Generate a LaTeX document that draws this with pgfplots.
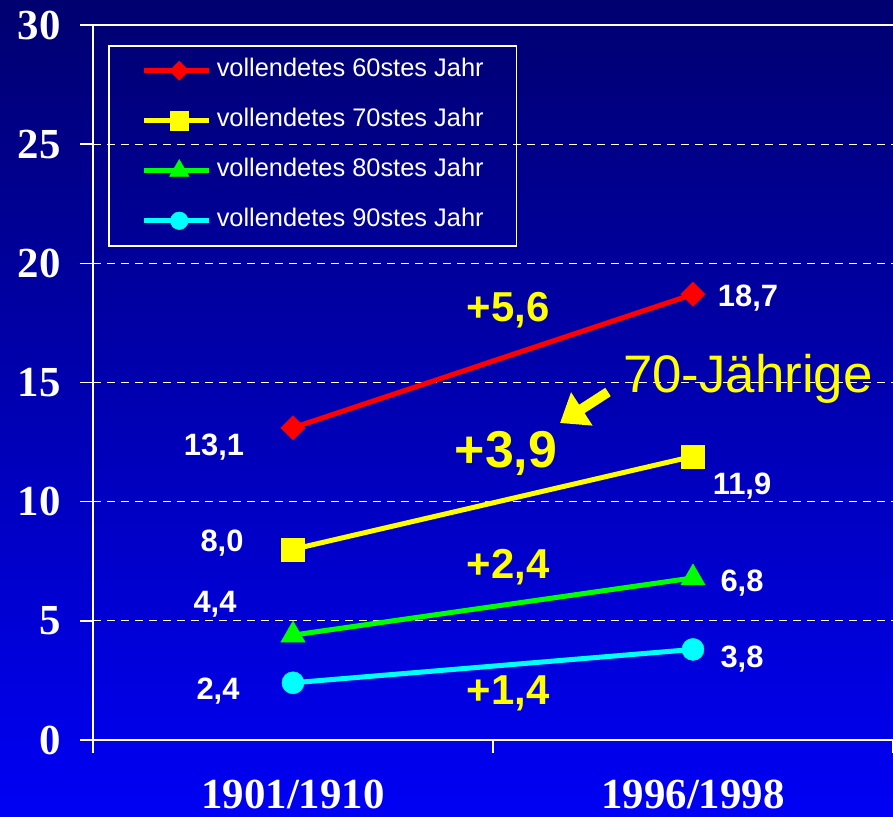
\documentclass[border=0pt]{standalone}
\usepackage{fontspec}
\setmainfont{Liberation Sans}
\newfontfamily\serifbf{Liberation Serif}
\usepackage{pgfplots}
\pgfplotsset{compat=1.18}
\usetikzlibrary{arrows.meta}
\definecolor{bgtop}{RGB}{0,0,112}
\definecolor{bgbot}{RGB}{0,0,245}
\definecolor{cred}{RGB}{255,0,0}
\definecolor{cyel}{RGB}{255,255,0}
\definecolor{cgrn}{RGB}{0,255,0}
\definecolor{ccya}{RGB}{0,255,255}
\begin{document}
\begin{tikzpicture}
\shade[top color=bgtop, bottom color=bgbot] (-93bp,-77bp) rectangle (800bp,740bp);
\begin{axis}[
  at={(0,0)}, anchor=south west,
  scale only axis, width=800bp, height=715bp,
  xmin=0, xmax=2, ymin=0, ymax=30,
  clip=false,
  axis x line*=bottom, axis y line*=left,
  axis line style={white, line width=1.5bp, -},
  tick align=outside,
  major tick length=13bp,
  tick style={white, line width=1.5bp},
  xtick={0,1,2}, xticklabels={},
  extra x ticks={0.5,1.5},
  extra x tick labels={1901/1910,1996/1998},
  extra x tick style={major tick length=0pt},
  ytick={0,5,10,15,20,25},
  ymajorgrids=true,
  major grid style={white, line width=0.8bp, dash pattern=on 8bp off 6bp},
  extra y ticks={30},
  extra y tick style={ymajorgrids=true, major grid style={solid, white, line width=1.5bp}},
  /pgf/number format/assume math mode=true,
  yticklabel style={font=\serifbf\bfseries\fontsize{43}{43}\selectfont, text=white, xshift=-16bp},
  xticklabel style={font=\serifbf\bfseries\fontsize{43}{43}\selectfont, text=white, yshift=-36bp},
  legend cell align=left,
  legend style={at={(axis description cs:0.01875,0.972)}, anchor=north west,
    draw=white, line width=1.5bp, fill=none, text=white,
    font=\fontsize{25.5}{25.5}\selectfont,
    inner xsep=33bp, inner ysep=13bp, row sep=26bp, column sep=5bp,
    nodes={inner sep=0bp, text height=18bp, text depth=6bp}},
  legend image code/.code={
    \path (0bp,0bp) -- (5bp,0bp);
    \draw[#1, /tikz/every mark/.append style={scale=0.8}, mark repeat=2, mark phase=2]
      plot coordinates {(5bp,0bp) (35bp,0bp) (65bp,0bp)};
  },
]
\addplot[color=cred, line width=5bp, mark=diamond*, mark size=12bp,
  mark options={solid, line width=0.5bp, xscale=1.33}]
  coordinates {(0.5,13.1) (1.5,18.7)};
\addlegendentry{vollendetes 60stes Jahr}
\addplot[color=cyel, line width=5bp, mark=square*, mark size=11.5bp,
  mark options={solid, line width=0.5bp}]
  coordinates {(0.5,8.0) (1.5,11.9)};
\addlegendentry{vollendetes 70stes Jahr}
\addplot[color=cgrn, line width=5bp, mark=triangle*, mark size=14bp,
  mark options={solid, line width=0.5bp}]
  coordinates {(0.5,4.4) (1.5,6.8)};
\addlegendentry{vollendetes 80stes Jahr}
\addplot[color=ccya, line width=5bp, mark=*, mark size=11bp,
  mark options={solid, line width=0.5bp}]
  coordinates {(0.5,2.4) (1.5,3.8)};
\addlegendentry{vollendetes 90stes Jahr}

\begin{scope}[every node/.style={anchor=base, text=white, font=\bfseries\fontsize{31}{31}\selectfont}]
\node at (axis cs:0.3025,11.92) {13,1};
\node at (axis cs:1.6375,18.17) {18,7};
\node at (axis cs:0.3225,7.89) {8,0};
\node at (axis cs:1.6225,10.28) {11,9};
\node at (axis cs:0.305,5.37) {4,4};
\node at (axis cs:1.6225,6.21) {6,8};
\node at (axis cs:0.3125,1.68) {2,4};
\node at (axis cs:1.6225,3.06) {3,8};
\end{scope}
\begin{scope}[every node/.style={anchor=base, text=cyel, font=\bfseries\fontsize{42}{42}\selectfont}]
\node at (axis cs:1.0375,17.54) {+5,6};
\node[font=\bfseries\fontsize{52}{52}\selectfont] at (axis cs:1.0325,11.45) {+3,9};
\node at (axis cs:1.0375,6.76) {+2,4};
\node at (axis cs:1.0375,1.47) {+1,4};
\node[font=\fontsize{53}{53}\selectfont] at (axis cs:1.6375,14.60) {70-Jährige};
\end{scope}
\draw[cyel, line width=10bp, -{Triangle[length=26bp,width=38bp]}]
  (axis cs:1.2875,14.60) -- (axis cs:1.1675,13.30);
\end{axis}
\pgfresetboundingbox
\path[use as bounding box] (-93bp,-77bp) rectangle (800bp,740bp);
\end{tikzpicture}
\end{document}
